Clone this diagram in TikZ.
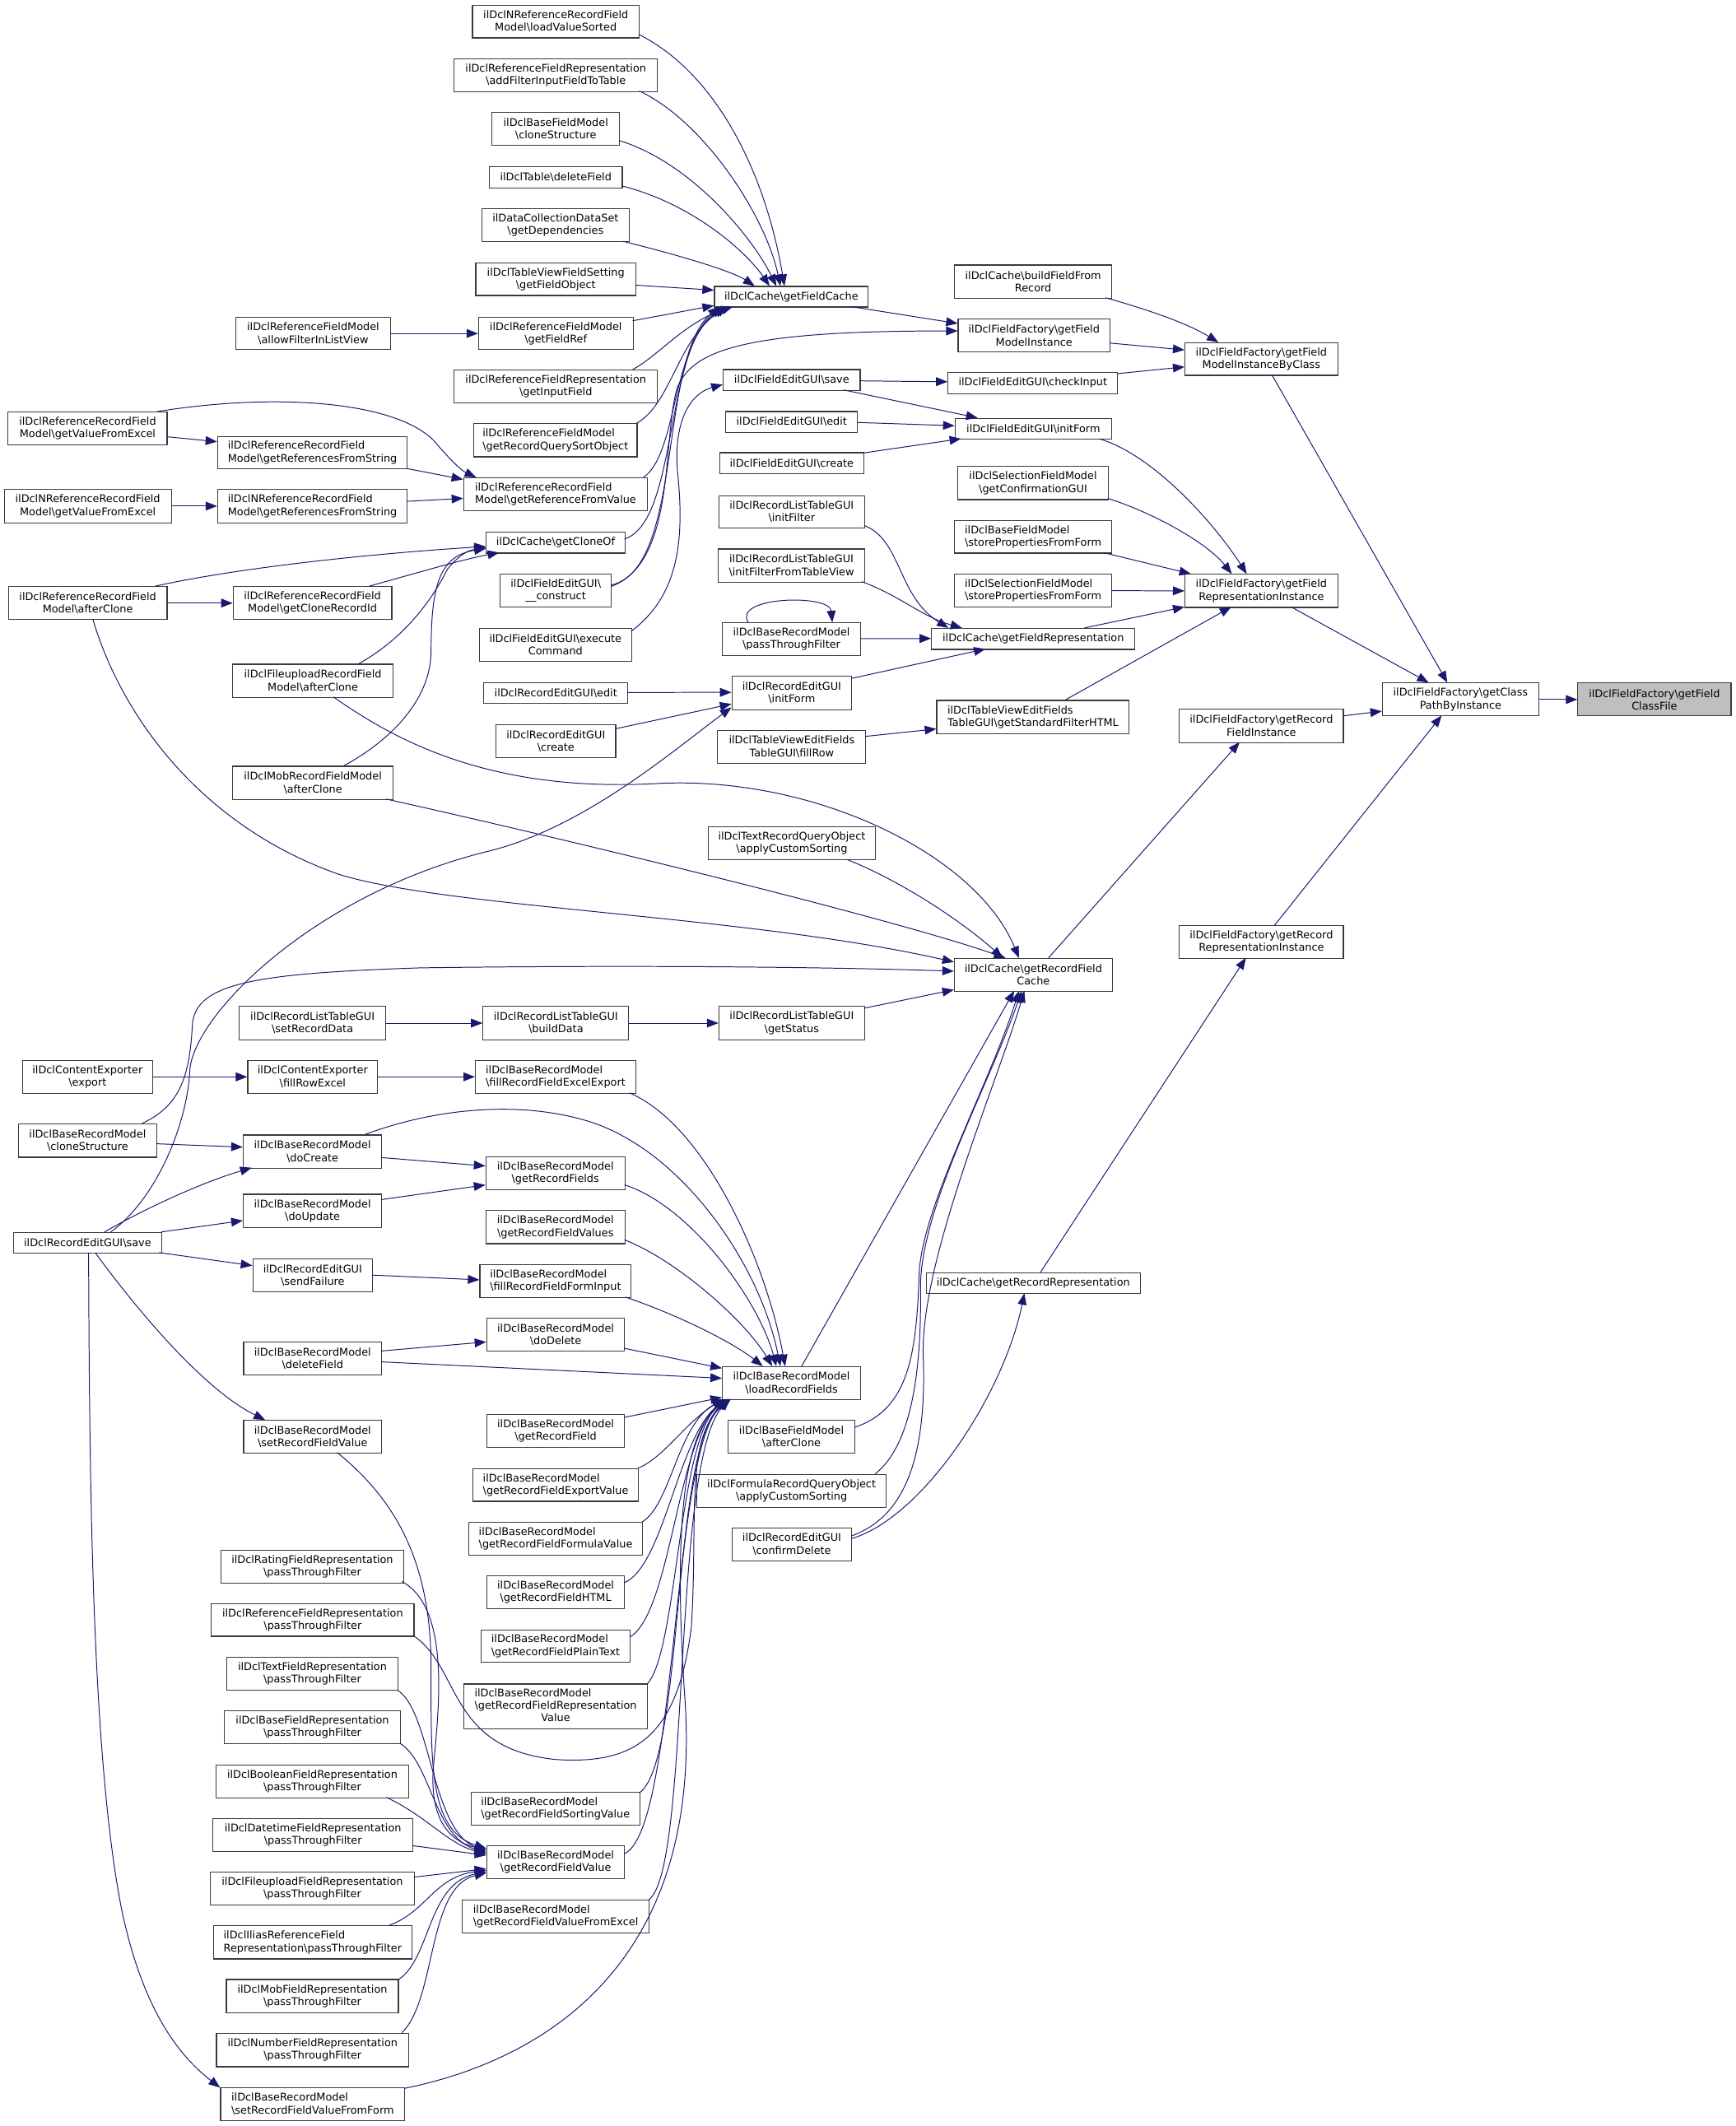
\documentclass[tikz,border=0pt]{standalone}
\usepackage{fontspec}
\setmainfont{DejaVu Sans}
\usetikzlibrary{arrows.meta}
\definecolor{edgeblue}{HTML}{191970}
\definecolor{boxline}{HTML}{3A3A3A}
\definecolor{focusgray}{HTML}{BFBFBF}
\tikzset{
  box/.style={draw=boxline, line width=0.7pt, fill=white, inner sep=1pt, font=\fontsize{7.8}{9.3}\selectfont, text=black},
  focus/.style={fill=focusgray},
  edge/.style={color=edgeblue, line width=0.6pt, -{Triangle[length=8.5pt,width=6.5pt]}},
}
\newcommand{\mkbox}[8][]{\node[box,#1,align=#8,minimum width={(#5-#3)*1pt},minimum height={(#6-#4)*1pt}] (#2) at ({(#3+#5)/2},{(#4+#6)/2}) {#7};}
\begin{document}
\begin{tikzpicture}[x=1pt,y=-1pt]
\fill[white] (0,0) rectangle (1280,1568.4);
\useasboundingbox (0,0) rectangle (1280,1568.4);
% ---------- nodes ----------
\mkbox{n1}{348.5}{3.7}{471.5}{27.9}{ilDclNReferenceRecordField\\Model\textbackslash loadValueSorted}{center}
\mkbox{n2}{335}{43.4}{485}{67.5}{ilDclReferenceFieldRepresentation\\\textbackslash addFilterInputFieldToTable}{center}
\mkbox{n3}{363}{83}{457}{107}{ilDclBaseFieldModel\\\textbackslash cloneStructure}{center}
\mkbox{n4}{361}{123}{459}{138.5}{ilDclTable\textbackslash deleteField}{center}
\mkbox{n5}{355.6}{154}{464}{178.4}{ilDataCollectionDataSet\\\textbackslash getDependencies}{center}
\mkbox{n6}{351}{194}{469}{218}{ilDclTableViewFieldSetting\\\textbackslash getFieldObject}{center}
\mkbox{n7}{174}{234}{288}{258}{ilDclReferenceFieldModel\\\textbackslash allowFilterInListView}{center}
\mkbox{n8}{353}{234}{467}{258}{ilDclReferenceFieldModel\\\textbackslash getFieldRef}{center}
\mkbox{n9}{335}{273}{485}{297}{ilDclReferenceFieldRepresentation\\\textbackslash getInputField}{center}
\mkbox{n10}{349.5}{312.6}{470}{337}{ilDclReferenceFieldModel\\\textbackslash getRecordQuerySortObject}{left}
\mkbox{n11}{342}{352.5}{477.7}{376.7}{ilDclReferenceRecordField\\Model\textbackslash getReferenceFromValue}{left}
\mkbox{n12}{6}{304}{123.3}{328}{ilDclReferenceRecordField\\Model\textbackslash getValueFromExcel}{center}
\mkbox{n13}{160.5}{322}{300.5}{346}{ilDclReferenceRecordField\\Model\textbackslash getReferencesFromString}{left}
\mkbox{n14}{3.1}{361}{126.4}{385.7}{ilDclNReferenceRecordField\\Model\textbackslash getValueFromExcel}{center}
\mkbox{n15}{160.5}{361}{300.5}{385.7}{ilDclNReferenceRecordField\\Model\textbackslash getReferencesFromString}{left}
\mkbox{n16}{358.7}{392.5}{461}{408}{ilDclCache\textbackslash getCloneOf}{center}
\mkbox{n17}{369}{423.5}{451}{448}{ilDclFieldEditGUI\textbackslash\\\_\_construct}{center}
\mkbox{n18}{353.5}{463.4}{466}{488}{ilDclFieldEditGUI\textbackslash execute\\Command}{center}
\mkbox{n19}{6.2}{432.8}{123.3}{457}{ilDclReferenceRecordField\\Model\textbackslash afterClone}{center}
\mkbox{n20}{172}{432.8}{289}{457}{ilDclReferenceRecordField\\Model\textbackslash getCloneRecordId}{center}
\mkbox{n21}{171.6}{490}{290}{514.5}{ilDclFileuploadRecordField\\Model\textbackslash afterClone}{center}
\mkbox{n22}{171.6}{565.3}{290}{589.8}{ilDclMobRecordFieldModel\\\textbackslash afterClone}{center}
\mkbox{n23}{527}{211.3}{640.5}{226.5}{ilDclCache\textbackslash getFieldCache}{center}
\mkbox{n24}{533.5}{272.6}{634.5}{288}{ilDclFieldEditGUI\textbackslash save}{center}
\mkbox{n25}{535.4}{303.6}{632.6}{319}{ilDclFieldEditGUI\textbackslash edit}{center}
\mkbox{n26}{530.8}{334}{637.3}{349.5}{ilDclFieldEditGUI\textbackslash create}{center}
\mkbox{n27}{530.2}{365.6}{637.8}{389.7}{ilDclRecordListTableGUI\\\textbackslash initFilter}{center}
\mkbox{n28}{529.7}{405}{638}{429.4}{ilDclRecordListTableGUI\\\textbackslash initFilterFromTableView}{center}
\mkbox{n29}{532.7}{459.4}{635}{483.6}{ilDclBaseRecordModel\\\textbackslash passThroughFilter}{center}
\mkbox{n30}{356.9}{503.7}{463.1}{518.9}{ilDclRecordEditGUI\textbackslash edit}{center}
\mkbox{n31}{539.9}{498.7}{628.2}{523.5}{ilDclRecordEditGUI\\\textbackslash initForm}{center}
\mkbox{n32}{365.9}{534.6}{454.2}{559.1}{ilDclRecordEditGUI\\\textbackslash create}{center}
\mkbox{n33}{529.4}{538.7}{638.7}{563.2}{ilDclTableViewEditFields\\TableGUI\textbackslash fillRow}{center}
\mkbox{n34}{691}{516.7}{833}{541.2}{ilDclTableViewEditFields\\TableGUI\textbackslash getStandardFilterHTML}{left}
\mkbox{n35}{687.2}{463.6}{837.2}{479.1}{ilDclCache\textbackslash getFieldRepresentation}{center}
\mkbox{n36}{704.2}{195.5}{820}{220}{ilDclCache\textbackslash buildFieldFrom\\Record}{center}
\mkbox{n37}{706.8}{235.4}{818.8}{259.6}{ilDclFieldFactory\textbackslash getField\\ModelInstance}{center}
\mkbox{n38}{699.3}{274.8}{824.5}{290.3}{ilDclFieldEditGUI\textbackslash checkInput}{center}
\mkbox{n39}{704.5}{308.6}{820}{324}{ilDclFieldEditGUI\textbackslash initForm}{center}
\mkbox{n40}{706.6}{344}{817.5}{368.6}{ilDclSelectionFieldModel\\\textbackslash getConfirmationGUI}{center}
\mkbox{n41}{704.2}{384}{820}{408}{ilDclBaseFieldModel\\\textbackslash storePropertiesFromForm}{left}
\mkbox{n42}{704.2}{423.5}{820}{448}{ilDclSelectionFieldModel\\\textbackslash storePropertiesFromForm}{left}
\mkbox{n43}{874.1}{252.9}{986.8}{276.9}{ilDclFieldFactory\textbackslash getField\\ModelInstanceByClass}{center}
\mkbox{n44}{874.1}{423.7}{986.8}{448.1}{ilDclFieldFactory\textbackslash getField\\RepresentationInstance}{center}
\mkbox{n45}{1019.7}{503.9}{1135.1}{528.2}{ilDclFieldFactory\textbackslash getClass\\PathByInstance}{center}
\mkbox[focus]{n46}{1163.9}{503.9}{1276.9}{528.2}{ilDclFieldFactory\textbackslash getField\\ClassFile}{center}
\mkbox{n47}{870}{523}{990.9}{547.8}{ilDclFieldFactory\textbackslash getRecord\\FieldInstance}{center}
\mkbox{n48}{870}{683}{990.9}{707}{ilDclFieldFactory\textbackslash getRecord\\RepresentationInstance}{center}
\mkbox{n49}{522.3}{610}{645.9}{634.4}{ilDclTextRecordQueryObject\\\textbackslash applyCustomSorting}{center}
\mkbox{n50}{704}{707}{820.5}{731.3}{ilDclCache\textbackslash getRecordField\\Cache}{center}
\mkbox{n51}{176.6}{742.5}{284.4}{767}{ilDclRecordListTableGUI\\\textbackslash setRecordData}{center}
\mkbox{n52}{356.3}{742.5}{463.8}{767}{ilDclRecordListTableGUI\\\textbackslash buildData}{center}
\mkbox{n53}{530.3}{742.5}{637.8}{767}{ilDclRecordListTableGUI\\\textbackslash getStatus}{center}
\mkbox{n54}{16.7}{782.2}{112.5}{806.6}{ilDclContentExporter\\\textbackslash export}{center}
\mkbox{n55}{182.8}{782.2}{278.5}{806.6}{ilDclContentExporter\\\textbackslash fillRowExcel}{center}
\mkbox{n56}{350.7}{782.2}{469}{806.6}{ilDclBaseRecordModel\\\textbackslash fillRecordFieldExcelExport}{left}
\mkbox{n57}{13.6}{829}{115.6}{853.7}{ilDclBaseRecordModel\\\textbackslash cloneStructure}{center}
\mkbox{n58}{179.4}{837.3}{281.6}{861.8}{ilDclBaseRecordModel\\\textbackslash doCreate}{center}
\mkbox{n59}{358.4}{853.4}{461}{877.9}{ilDclBaseRecordModel\\\textbackslash getRecordFields}{center}
\mkbox{n60}{179.4}{881}{281.6}{905.5}{ilDclBaseRecordModel\\\textbackslash doUpdate}{center}
\mkbox{n61}{358.4}{893}{461}{917.5}{ilDclBaseRecordModel\\\textbackslash getRecordFieldValues}{center}
\mkbox{n62}{9.9}{909.2}{119.3}{924.4}{ilDclRecordEditGUI\textbackslash save}{center}
\mkbox{n63}{186.5}{928.7}{274.8}{953.2}{ilDclRecordEditGUI\\\textbackslash sendFailure}{center}
\mkbox{n64}{354}{932.7}{465.6}{957.2}{ilDclBaseRecordModel\\\textbackslash fillRecordFieldFormInput}{left}
\mkbox{n65}{359}{972.3}{460.8}{996.7}{ilDclBaseRecordModel\\\textbackslash doDelete}{center}
\mkbox{n66}{179.7}{989.9}{281.5}{1014.3}{ilDclBaseRecordModel\\\textbackslash deleteField}{center}
\mkbox{n67}{532.9}{1008.2}{634.8}{1032.4}{ilDclBaseRecordModel\\\textbackslash loadRecordFields}{center}
\mkbox{n68}{683.3}{938.9}{841.1}{954.4}{ilDclCache\textbackslash getRecordRepresentation}{center}
\mkbox{n69}{359}{1043.5}{460.8}{1067.9}{ilDclBaseRecordModel\\\textbackslash getRecordField}{center}
\mkbox{n70}{179.7}{1047.9}{281.5}{1071.9}{ilDclBaseRecordModel\\\textbackslash setRecordFieldValue}{center}
\mkbox{n71}{537}{1047.9}{630.7}{1071.9}{ilDclBaseFieldModel\\\textbackslash afterClone}{center}
\mkbox{n72}{348.8}{1083.5}{471}{1107.5}{ilDclBaseRecordModel\\\textbackslash getRecordFieldExportValue}{left}
\mkbox{n73}{514}{1087.7}{653.8}{1112}{ilDclFormulaRecordQueryObject\\\textbackslash applyCustomSorting}{center}
\mkbox{n74}{345.8}{1123.1}{474}{1147.5}{ilDclBaseRecordModel\\\textbackslash getRecordFieldFormulaValue}{left}
\mkbox{n75}{540}{1127.1}{628.2}{1151.3}{ilDclRecordEditGUI\\\textbackslash confirmDelete}{center}
\mkbox{n76}{359}{1162.7}{460.8}{1186.7}{ilDclBaseRecordModel\\\textbackslash getRecordFieldHTML}{center}
\mkbox{n77}{354.8}{1202.3}{465}{1226.3}{ilDclBaseRecordModel\\\textbackslash getRecordFieldPlainText}{left}
\mkbox{n78}{342.4}{1242.3}{477.4}{1275.5}{\begin{tabular}{@{}l@{}}ilDclBaseRecordModel\\\textbackslash getRecordFieldRepresentation\\\multicolumn{1}{@{}c@{}}{Value}\end{tabular}}{center}
\mkbox{n79}{347.5}{1322.3}{471.9}{1346.3}{ilDclBaseRecordModel\\\textbackslash getRecordFieldSortingValue}{left}
\mkbox{n80}{359}{1361.5}{460.8}{1385.9}{ilDclBaseRecordModel\\\textbackslash getRecordFieldValue}{center}
\mkbox{n81}{341.1}{1401.5}{478.7}{1425.9}{ilDclBaseRecordModel\\\textbackslash getRecordFieldValueFromExcel}{left}
\mkbox{n82}{163.1}{1143.5}{297.7}{1167.9}{ilDclRatingFieldRepresentation\\\textbackslash passThroughFilter}{center}
\mkbox{n83}{155.9}{1183.1}{305.4}{1207.1}{ilDclReferenceFieldRepresentation\\\textbackslash passThroughFilter}{center}
\mkbox{n84}{167.4}{1222.7}{293.4}{1247.1}{ilDclTextFieldRepresentation\\\textbackslash passThroughFilter}{center}
\mkbox{n85}{165.7}{1261.9}{295.2}{1286.3}{ilDclBaseFieldRepresentation\\\textbackslash passThroughFilter}{center}
\mkbox{n86}{159.3}{1301.9}{301.5}{1326.3}{ilDclBooleanFieldRepresentation\\\textbackslash passThroughFilter}{center}
\mkbox{n87}{157.2}{1341.5}{304.5}{1365.9}{ilDclDatetimeFieldRepresentation\\\textbackslash passThroughFilter}{center}
\mkbox{n88}{155}{1381.1}{305.8}{1405.5}{ilDclFileuploadFieldRepresentation\\\textbackslash passThroughFilter}{center}
\mkbox{n89}{157.6}{1420.7}{303.7}{1445.1}{ilDclIliasReferenceField\\Representation\textbackslash passThroughFilter}{left}
\mkbox{n90}{167}{1460.3}{293.9}{1485.1}{ilDclMobFieldRepresentation\\\textbackslash passThroughFilter}{center}
\mkbox{n91}{159.7}{1499.9}{301.5}{1524.7}{ilDclNumberFieldRepresentation\\\textbackslash passThroughFilter}{center}
\mkbox{n92}{162.7}{1539.9}{298.6}{1564.3}{ilDclBaseRecordModel\\\textbackslash setRecordFieldValueFromForm}{left}
% ---------- edges ----------
\draw[edge] ([shift={(123,22)}]n1.north west) .. controls (530,55) and (565,130) .. ([shift={(52,0)}]n23.north west);
\draw[edge] ([shift={(137,24.1)}]n2.north west) .. controls (520,90) and (565,160) .. ([shift={(49,0)}]n23.north west);
\draw[edge] ([shift={(94,21)}]n3.north west) .. controls (510,120) and (555,175) .. ([shift={(46,0)}]n23.north west);
\draw[edge] ([shift={(98,14.5)}]n4.north west) .. controls (510,150) and (550,185) .. ([shift={(41,0)}]n23.north west);
\draw[edge] ([shift={(104.4,24.4)}]n5.north west) .. controls (500,188) and (540,200) .. ([shift={(30,0)}]n23.north west);
\draw[edge] ([shift={(118,16.7)}]n6.north west) -- ([shift={(0,3.1)}]n23.north west);
\draw[edge] ([shift={(114,3)}]n8.north west) -- ([shift={(0,14.5)}]n23.north west);
\draw[edge] ([shift={(132,0)}]n9.north west) .. controls (485,263) and (505,238) .. ([shift={(14,15.2)}]n23.north west);
\draw[edge] ([shift={(120.5,0)}]n10.north west) .. controls (495,298) and (500,250) .. ([shift={(10,15.2)}]n23.north west);
\draw[edge] ([shift={(133,0)}]n11.north west) .. controls (500,335) and (495,255) .. ([shift={(8,15.2)}]n23.north west);
\draw[edge] ([shift={(102.3,5.5)}]n16.north west) .. controls (500,385) and (490,260) .. ([shift={(6,15.2)}]n23.north west);
\draw[edge] ([shift={(82,8.5)}]n17.north west) .. controls (505,420) and (485,265) .. ([shift={(4,15.2)}]n23.north west);
\draw[edge] ([shift={(82,9.5)}]n17.north west) .. controls (500,415) and (488,320) .. (500,285) .. controls (512,258) and (550,244) .. ([shift={(0,9.1)}]n37.north west);
\draw[edge] ([shift={(112.5,2.6)}]n18.north west) .. controls (500,440) and (505,400) .. (500,350) .. controls (496,310) and (510,290) .. ([shift={(0,11.4)}]n24.north west);
\draw[edge] ([shift={(101,15.2)}]n23.north west) -- ([shift={(0,3.6)}]n37.north west);
\draw[edge] ([shift={(112,18)}]n37.north west) -- ([shift={(0,5.6)}]n43.north west);
\draw[edge] ([shift={(111.8,24.5)}]n36.north west) .. controls (845,228) and (875,238) .. ([shift={(25,0)}]n43.north west);
\draw[edge] ([shift={(125.2,1.2)}]n38.north west) -- ([shift={(0,18.1)}]n43.north west);
\draw[edge] ([shift={(64.5,24)}]n43.north west) -- ([shift={(48.3,0)}]n45.north west);
\draw[edge] ([shift={(78.7,24.4)}]n44.north west) -- ([shift={(34.5,0)}]n45.north west);
\draw[edge] ([shift={(120.9,5.5)}]n47.north west) -- ([shift={(0,21.1)}]n45.north west);
\draw[edge] ([shift={(70.5,0)}]n48.north west) -- ([shift={(44.1,24.3)}]n45.north west);
\draw[edge] (n45.east) -- (n46.west);
\draw[edge] ([shift={(101,8.7)}]n24.north west) -- ([shift={(0,7.2)}]n38.north west);
\draw[edge] ([shift={(89.1,15.4)}]n24.north west) -- ([shift={(17,0)}]n39.north west);
\draw[edge] ([shift={(97.2,8.4)}]n25.north west) -- ([shift={(0,5.8)}]n39.north west);
\draw[edge] ([shift={(106.5,0.5)}]n26.north west) -- ([shift={(4.8,15.4)}]n39.north west);
\draw[edge] ([shift={(106.5,15.4)}]n39.north west) .. controls (850,335) and (895,385) .. ([shift={(45.9,0)}]n44.north west);
\draw[edge] ([shift={(110.9,24)}]n40.north west) .. controls (850,378) and (890,400) .. ([shift={(34.9,0)}]n44.north west);
\draw[edge] ([shift={(110,24)}]n41.north west) -- ([shift={(4.7,0)}]n44.north west);
\draw[edge] (n42.east) -- (n44.west);
\draw[edge] ([shift={(113,0)}]n35.north west) -- ([shift={(0,24.4)}]n44.north west);
\draw[edge] ([shift={(95.2,0)}]n34.north west) -- ([shift={(34.5,24.4)}]n44.north west);
\draw[edge] ([shift={(109.3,4.9)}]n33.north west) -- ([shift={(0,21.4)}]n34.north west);
\draw[edge] ([shift={(107.6,22.4)}]n27.north west) .. controls (665,398) and (662,440) .. ([shift={(12.8,0)}]n35.north west);
\draw[edge] ([shift={(106.3,24.4)}]n28.north west) .. controls (665,440) and (680,455) .. ([shift={(22.8,0)}]n35.north west);
\draw[edge] ([shift={(102.3,12)}]n29.north west) -- ([shift={(0,7.8)}]n35.north west);
\draw[edge] ([shift={(19.6,0)}]n29.north west) .. controls (540,440) and (612,438) .. ([shift={(81.6,0)}]n29.north west);
\draw[edge] ([shift={(88.3,2.2)}]n31.north west) -- ([shift={(40.1,15.5)}]n35.north west);
\draw[edge] ([shift={(106.2,7.5)}]n30.north west) -- ([shift={(0,12.4)}]n31.north west);
\draw[edge] ([shift={(88.3,3.4)}]n32.north west) -- ([shift={(0,21)}]n31.north west);
\draw[edge] ([shift={(72.1,0)}]n62.north west) .. controls (115,885) and (138,830) .. (140,790) .. controls (142,750) and (230,660) .. (360,628) .. controls (430,611) and (495,555) .. ([shift={(0,23.5)}]n31.north west);
\draw[edge] ([shift={(91.7,0)}]n57.north west) .. controls (135,815) and (140,790) .. (142,755) .. controls (145,725) and (190,718) .. (310,714) .. controls (450,712) and (600,713) .. ([shift={(0,9.8)}]n50.north west);
\draw[edge] ([shift={(67.5,0)}]n62.north west) .. controls (110,890) and (150,872) .. ([shift={(6.6,24.5)}]n58.north west);
\draw[edge] ([shift={(109.4,0)}]n62.north west) -- ([shift={(0,19.8)}]n60.north west);
\draw[edge] ([shift={(107.8,15.2)}]n62.north west) -- ([shift={(0,5.3)}]n63.north west);
\draw[edge] ([shift={(60.7,15.2)}]n62.north west) .. controls (100,965) and (150,1025) .. ([shift={(16.3,0)}]n70.north west);
\draw[edge] ([shift={(55.8,15.2)}]n62.north west) .. controls (66,1100) and (68,1300) .. (90,1410) .. controls (105,1480) and (130,1515) .. ([shift={(0,0.5)}]n92.north west);
\draw[edge] ([shift={(102,15.1)}]n57.north west) -- ([shift={(0,9.3)}]n58.north west);
\draw[edge] (n54.east) -- (n55.west);
\draw[edge] (n55.east) -- (n56.west);
\draw[edge] ([shift={(114,24.4)}]n56.north west) .. controls (520,830) and (565,930) .. ([shift={(46.6,0)}]n67.north west);
\draw[edge] ([shift={(90.1,0)}]n58.north west) .. controls (320,818) and (380,812) .. (430,826) .. controls (500,845) and (560,930) .. ([shift={(43.1,0)}]n67.north west);
\draw[edge] ([shift={(102.2,17)}]n58.north west) -- ([shift={(0,7.1)}]n59.north west);
\draw[edge] ([shift={(102.2,4.3)}]n60.north west) -- ([shift={(0,21.1)}]n59.north west);
\draw[edge] ([shift={(102.6,21)}]n59.north west) .. controls (510,890) and (560,960) .. ([shift={(40.1,0)}]n67.north west);
\draw[edge] ([shift={(102.6,22)}]n61.north west) .. controls (500,930) and (550,975) .. ([shift={(37.1,0)}]n67.north west);
\draw[edge] ([shift={(88.3,12.3)}]n63.north west) -- ([shift={(0,11.8)}]n64.north west);
\draw[edge] ([shift={(107.6,24.5)}]n64.north west) .. controls (500,970) and (540,990) .. ([shift={(30.1,0)}]n67.north west);
\draw[edge] ([shift={(101.8,22.7)}]n65.north west) -- ([shift={(0,1.5)}]n67.north west);
\draw[edge] ([shift={(101.8,7.1)}]n66.north west) -- ([shift={(0,18)}]n65.north west);
\draw[edge] ([shift={(101.8,15.1)}]n66.north west) -- ([shift={(0,8.9)}]n67.north west);
\draw[edge] ([shift={(101.8,2.5)}]n69.north west) -- ([shift={(0,23)}]n67.north west);
\draw[edge] ([shift={(122.2,0)}]n72.north west) .. controls (490,1075) and (505,1050) .. ([shift={(1.1,24.2)}]n67.north west);
\draw[edge] ([shift={(128.2,0)}]n74.north west) .. controls (495,1110) and (500,1050) .. ([shift={(2.1,24.2)}]n67.north west);
\draw[edge] ([shift={(101.8,5.3)}]n76.north west) .. controls (490,1155) and (500,1060) .. ([shift={(3.1,24.2)}]n67.north west);
\draw[edge] ([shift={(110.2,5.7)}]n77.north west) .. controls (495,1190) and (500,1060) .. ([shift={(3.6,24.2)}]n67.north west);
\draw[edge] ([shift={(135,0.7)}]n78.north west) .. controls (500,1220) and (500,1060) .. ([shift={(4.1,24.2)}]n67.north west);
\draw[edge] ([shift={(124.4,0.7)}]n79.north west) .. controls (505,1300) and (495,1070) .. ([shift={(4.6,24.2)}]n67.north west);
\draw[edge] ([shift={(101.8,6.5)}]n80.north west) .. controls (500,1350) and (495,1070) .. ([shift={(5.1,24.2)}]n67.north west);
\draw[edge] ([shift={(137.6,0.5)}]n81.north west) .. controls (510,1380) and (495,1080) .. ([shift={(5.6,24.2)}]n67.north west);
\draw[edge] ([shift={(135.9,1.1)}]n92.north west) .. controls (400,1520) and (520,1450) .. (505,1250) .. controls (495,1100) and (510,1050) .. ([shift={(6.1,24.2)}]n67.north west);
\draw[edge] ([shift={(149.5,24)}]n83.north west) .. controls (340,1230) and (330,1290) .. (410,1298) .. controls (470,1302) and (500,1280) .. (510,1200) .. controls (515,1120) and (505,1060) .. ([shift={(6.6,24.2)}]n67.north west);
\draw[edge] ([shift={(133.7,23.5)}]n82.north west) .. controls (330,1185) and (325,1250) .. (320,1300) .. controls (316,1340) and (330,1358) .. ([shift={(0,3.5)}]n80.north west);
\draw[edge] ([shift={(126,24.4)}]n84.north west) .. controls (318,1262) and (318,1350) .. ([shift={(0,4.5)}]n80.north west);
\draw[edge] ([shift={(129.5,24.4)}]n85.north west) .. controls (318,1300) and (320,1355) .. ([shift={(0,5.5)}]n80.north west);
\draw[edge] ([shift={(126.1,24.4)}]n86.north west) .. controls (315,1340) and (330,1360) .. ([shift={(0,6.5)}]n80.north west);
\draw[edge] ([shift={(147.3,20.4)}]n87.north west) -- ([shift={(0,7.5)}]n80.north west);
\draw[edge] ([shift={(150.8,4)}]n88.north west) -- ([shift={(0,17.5)}]n80.north west);
\draw[edge] ([shift={(129.9,0)}]n89.north west) .. controls (315,1410) and (320,1385) .. ([shift={(0,18.5)}]n80.north west);
\draw[edge] ([shift={(126.9,0.7)}]n90.north west) .. controls (318,1445) and (315,1390) .. ([shift={(0,19.5)}]n80.north west);
\draw[edge] ([shift={(137.1,0)}]n91.north west) .. controls (322,1475) and (315,1392) .. ([shift={(0,20.5)}]n80.north west);
\draw[edge] ([shift={(69.4,24)}]n70.north west) .. controls (290,1105) and (318,1150) .. (318,1230) .. controls (318,1300) and (316,1350) .. ([shift={(0,2.5)}]n80.north west);
\draw[edge] ([shift={(58.8,0)}]n67.north west) -- ([shift={(44.5,24.3)}]n50.north west);
\draw[edge] ([shift={(93.7,5.4)}]n71.north west) .. controls (670,1040) and (676,1000) .. (678,940) .. controls (680,890) and (730,800) .. ([shift={(48,24.3)}]n50.north west);
\draw[edge] ([shift={(131.9,0)}]n73.north west) .. controls (670,1068) and (680,1020) .. (679,950) .. controls (679,890) and (730,800) .. ([shift={(50,24.3)}]n50.north west);
\draw[edge] ([shift={(88.2,6.4)}]n75.north west) .. controls (665,1120) and (684,1080) .. (681,1000) .. controls (679,930) and (735,800) .. ([shift={(52,24.3)}]n50.north west);
\draw[edge] ([shift={(88.2,8.4)}]n75.north west) .. controls (680,1120) and (740,1030) .. ([shift={(72.7,15.5)}]n68.north west);
\draw[edge] ([shift={(84.6,0)}]n68.north west) -- ([shift={(49.4,24)}]n48.north west);
\draw[edge] ([shift={(69.8,0)}]n50.north west) -- ([shift={(44.8,24.8)}]n47.north west);
\draw[edge] ([shift={(102.8,24.4)}]n49.north west) .. controls (665,650) and (710,680) .. ([shift={(36,0)}]n50.north west);
\draw[edge] ([shift={(107.5,1.6)}]n53.north west) -- ([shift={(0,23.5)}]n50.north west);
\draw[edge] (n52.east) -- (n53.west);
\draw[edge] (n51.east) -- (n52.west);
\draw[edge] ([shift={(74.7,24.5)}]n21.north west) .. controls (290,545) and (360,585) .. (485,578) .. controls (600,572) and (720,630) .. ([shift={(48,0)}]n50.north west);
\draw[edge] ([shift={(113.4,24.5)}]n22.north west) .. controls (400,615) and (650,675) .. ([shift={(38,0)}]n50.north west);
\draw[edge] ([shift={(62.6,24.2)}]n19.north west) .. controls (90,530) and (150,610) .. (250,645) .. controls (330,670) and (550,675) .. ([shift={(0,3)}]n50.north west);
\draw[edge] ([shift={(110.2,0)}]n12.north west) .. controls (200,290) and (290,295) .. (320,325) .. controls (330,337) and (340,347) .. ([shift={(9.6,0)}]n11.north west);
\draw[edge] ([shift={(117.3,18.5)}]n12.north west) -- ([shift={(0,4.2)}]n13.north west);
\draw[edge] ([shift={(140,24)}]n13.north west) -- ([shift={(0,1.5)}]n11.north west);
\draw[edge] (n14.east) -- (n15.west);
\draw[edge] ([shift={(140,9.2)}]n15.north west) -- ([shift={(0,15.5)}]n11.north west);
\draw[edge] (n7.east) -- (n8.west);
\draw[edge] (n19.east) -- (n20.west);
\draw[edge] ([shift={(108.4,0)}]n19.north west) .. controls (180,418) and (280,408) .. ([shift={(0,11)}]n16.north west);
\draw[edge] ([shift={(100.6,0)}]n20.north west) .. controls (310,422) and (340,413) .. ([shift={(9.9,15.5)}]n16.north west);
\draw[edge] ([shift={(93.3,0)}]n21.north west) .. controls (300,470) and (320,440) .. (330,420) .. controls (338,410) and (345,406) .. ([shift={(0,12)}]n16.north west);
\draw[edge] ([shift={(82.4,0)}]n22.north west) .. controls (290,545) and (318,515) .. (318,480) .. controls (318,430) and (325,410) .. ([shift={(0,12.5)}]n16.north west);
\end{tikzpicture}
\end{document}
